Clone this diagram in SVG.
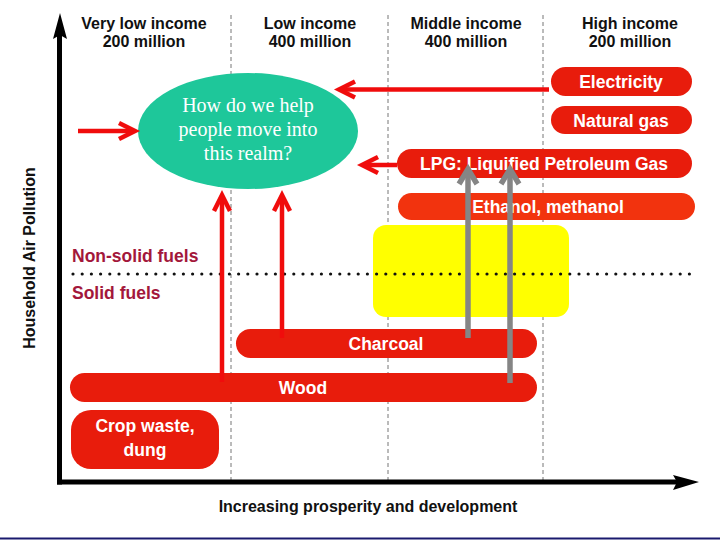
<svg xmlns="http://www.w3.org/2000/svg" width="720" height="540" viewBox="0 0 720 540">
<defs>
<style>
.hdr{font-family:"Liberation Sans",Arial,sans-serif;font-weight:bold;font-size:16px;fill:#111;text-anchor:middle}
.pill{fill:#e81c0c}
.pt{font-family:"Liberation Sans",Arial,sans-serif;font-weight:bold;font-size:17.5px;fill:#fff;text-anchor:middle}
.side{font-family:"Liberation Sans",Arial,sans-serif;font-weight:bold;font-size:17.5px;fill:#a3173b}
.dash{stroke:#777;stroke-width:1;stroke-dasharray:4 3;fill:none}
.ra{stroke:#f00c0c;stroke-width:4.5;fill:none}
.ga{stroke:#858585;stroke-width:5.5;fill:none}
.et{font-family:"Liberation Serif","Times New Roman",serif;font-size:20px;fill:#fff;text-anchor:middle}
</style>
</defs>
<rect x="0" y="0" width="720" height="540" fill="#fff"/>
<g id="gridlines">
<line class="dash" x1="231" y1="15" x2="231" y2="480"/>
<line class="dash" x1="388" y1="15" x2="388" y2="480"/>
<line class="dash" x1="543" y1="15" x2="543" y2="480"/>
</g>
<g id="headers">
<text class="hdr" x="144" y="29">Very low income</text>
<text class="hdr" x="144" y="47">200 million</text>
<text class="hdr" x="310" y="29">Low income</text>
<text class="hdr" x="310" y="47">400 million</text>
<text class="hdr" x="466" y="29">Middle income</text>
<text class="hdr" x="466" y="47">400 million</text>
<text class="hdr" x="630" y="29">High income</text>
<text class="hdr" x="630" y="47">200 million</text>
</g>
<g id="yellow-box"><rect x="373" y="225" width="196" height="92" rx="13" fill="#ffff00"/></g>
<g id="divider">
<line x1="73" y1="274" x2="692" y2="274" stroke="#111" stroke-width="3.2" stroke-linecap="round" stroke-dasharray="0 9.2"/>
</g>
<g id="electricity"><rect class="pill" x="551" y="67" width="141" height="29" rx="14.5"/><text class="pt" x="621" y="88">Electricity</text></g>
<g id="natural-gas"><rect class="pill" x="551" y="106" width="141" height="28" rx="14"/><text class="pt" x="621" y="127">Natural gas</text></g>
<g id="lpg"><rect class="pill" x="397" y="149" width="295" height="29" rx="14.5"/><text class="pt" x="544" y="170">LPG: Liquified Petroleum Gas</text></g>
<g id="ethanol"><rect x="398" y="193" width="297" height="27" rx="13.5" fill="#f2330e"/><text class="pt" x="548" y="213">Ethanol, methanol</text></g>
<g id="charcoal"><rect class="pill" x="236" y="329" width="301" height="29" rx="14.5"/><text class="pt" x="386" y="350">Charcoal</text></g>
<g id="wood"><rect class="pill" x="70" y="373" width="467" height="29" rx="14.5"/><text class="pt" x="303" y="394">Wood</text></g>
<g id="crop-waste"><rect class="pill" x="71" y="410" width="148" height="59" rx="20"/><text class="pt" x="145" y="432">Crop waste,</text><text class="pt" x="145" y="456">dung</text></g>
<g id="labels">
<text class="side" x="72" y="262">Non-solid fuels</text>
<text class="side" x="72" y="299">Solid fuels</text>
<text class="hdr" transform="translate(35,258) rotate(-90)">Household Air Pollution</text>
<text class="hdr" x="368" y="512">Increasing prosperity and development</text>
</g>
<g id="axes">
<line x1="59.5" y1="30" x2="59.5" y2="484.5" stroke="#000" stroke-width="5"/>
<path d="M60,13 L67,39 L60,35 L53,39 Z" fill="#000"/>
<line x1="57" y1="482" x2="680" y2="482" stroke="#000" stroke-width="5"/>
<path d="M699,482 L673,475 L677,482 L673,490 Z" fill="#000"/>
</g>
<g id="question">
<ellipse cx="248" cy="131" rx="110" ry="58" fill="#1ec79a"/>
<text class="et" x="248" y="112">How do we help</text>
<text class="et" x="248" y="136">people move into</text>
<text class="et" x="248" y="160">this realm?</text>
</g>
<g id="connectors">
<line class="ra" x1="78" y1="131" x2="134" y2="131"/>
<polyline class="ra" points="119,123 135,131 119,139"/>
<line class="ra" x1="549" y1="89.5" x2="341" y2="89.5"/>
<polyline class="ra" points="355,81.5 339,89.5 355,97.5"/>
<line class="ra" x1="397" y1="165" x2="364" y2="165"/>
<polyline class="ra" points="378,157 362,165 378,173"/>
<line class="ra" x1="222" y1="382" x2="222" y2="197"/>
<polyline class="ra" points="214,211 222,195 230,211"/>
<line class="ra" x1="282" y1="338" x2="282" y2="197"/>
<polyline class="ra" points="274,211 282,195 290,211"/>
<line class="ga" x1="468" y1="338" x2="468" y2="171"/>
<polyline class="ga" points="459,184 468,169 477,184"/>
<line class="ga" x1="510" y1="383" x2="510" y2="171"/>
<polyline class="ga" points="501,184 510,169 519,184"/>
</g>
<g id="footer"><line x1="0" y1="538.5" x2="720" y2="538.5" stroke="#1a1a6e" stroke-width="2"/></g>
</svg>
